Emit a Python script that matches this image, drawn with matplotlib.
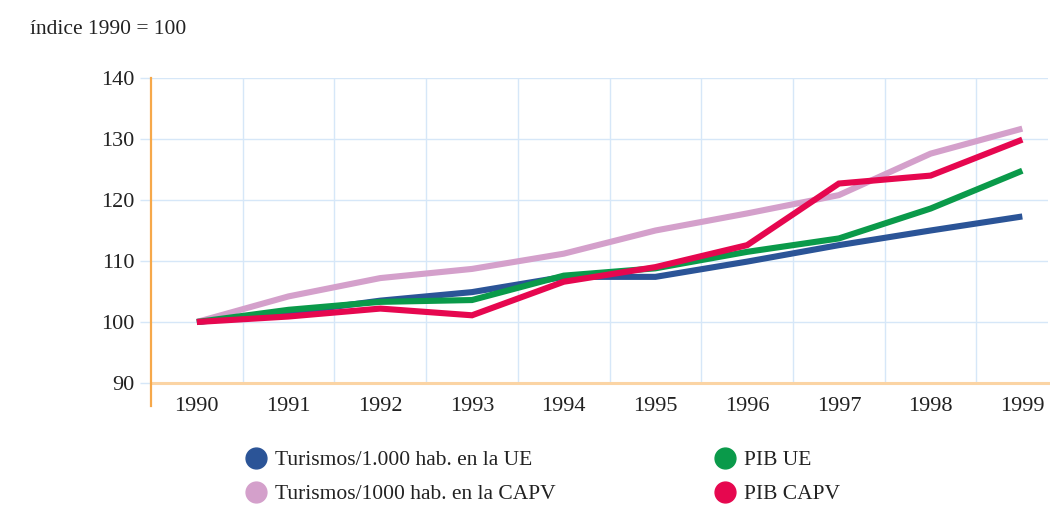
import matplotlib
matplotlib.use("Agg")
import matplotlib.pyplot as plt
from matplotlib.lines import Line2D
import numpy as np

years = ["1990", "1991", "1992", "1993", "1994", "1995", "1996", "1997", "1998", "1999"]
turismos_ue = [100, 101.5, 103.5, 104.9, 107.4, 107.4, 109.9, 112.6, 115.0, 117.3]
turismos_capv = [100, 104.2, 107.2, 108.7, 111.2, 115.0, 117.8, 120.8, 127.6, 131.7]
pib_ue = [100, 102.0, 103.3, 103.6, 107.6, 108.8, 111.5, 113.7, 118.6, 124.8]
pib_capv = [100, 100.9, 102.2, 101.1, 106.6, 109.0, 112.6, 122.7, 124.0, 129.9]

labels = ["Turismos/1.000 hab. en la UE", "Turismos/1000 hab. en la CAPV", "PIB UE", "PIB CAPV"]
colors = ["#2b5497", "#d4a0cb", "#0a9a4a", "#e6074f"]

plt.rcParams['font.family'] = ['Liberation Serif', 'DejaVu Serif']

fig = plt.figure(figsize=(10.5, 5.05), dpi=100)
ax = fig.add_axes([151/1050, 1-383/505, (1048-151)/1050, (383-78)/505])

x = np.arange(len(years))
series = [turismos_ue, turismos_capv, pib_ue, pib_capv]
for s, c in zip(series, colors):
    ax.plot(x, s, color=c, lw=4.4, solid_capstyle='butt', solid_joinstyle='miter', zorder=3)

ax.set_xlim(-0.5, 9.28)
ax.set_ylim(90, 140)
ax.set_yticks([90, 100, 110, 120, 130, 140])
ax.set_xticks(x)
ax.set_xticklabels(years)

grid_c = "#d6e7f8"
for v in [100, 110, 120, 130, 140]:
    ax.axhline(v, color=grid_c, lw=1, zorder=1)
for xv in np.arange(0.5, 9, 1):
    ax.axvline(xv, color=grid_c, lw=1, zorder=1)

for sp in ["top", "right"]:
    ax.spines[sp].set_visible(False)
ax.spines["bottom"].set_color("#fbd4a4")
ax.spines["bottom"].set_linewidth(2.2)
ax.spines["left"].set_visible(False)
ax.plot([-0.5, -0.5], [86.3, 140], color="#f6a84a", lw=1.6, clip_on=False, zorder=4)

ax.tick_params(axis='y', length=8, color=grid_c, width=1, labelsize=16, pad=4, labelcolor="#222222")
ax.tick_params(axis='x', which='major', length=0, labelsize=16, pad=10, labelcolor="#222222")
ax.yaxis.get_major_ticks()[0].tick1line.set_color("#fbd4a4")

fig.text(30/1050, 1-29/505, "índice 1990 = 100", fontsize=15.5, va='center', ha='left', color="#222222")

def handle(c):
    return Line2D([], [], marker='o', ls='none', markersize=15, markerfacecolor=c, markeredgecolor=c)

common = dict(loc='upper left', frameon=False, fontsize=15.5, handletextpad=0.3,
              labelspacing=0.65, handlelength=1.2, borderpad=0, borderaxespad=0)
leg1 = fig.legend([handle(colors[0]), handle(colors[1])], labels[:2],
                  bbox_to_anchor=(243/1050, 1-450/505), **common)
leg2 = fig.legend([handle(colors[2]), handle(colors[3])], labels[2:],
                  bbox_to_anchor=(712/1050, 1-450/505), **common)
for leg in (leg1, leg2):
    for t in leg.get_texts():
        t.set_color("#222222")

fig.savefig("out.png", dpi=100)
